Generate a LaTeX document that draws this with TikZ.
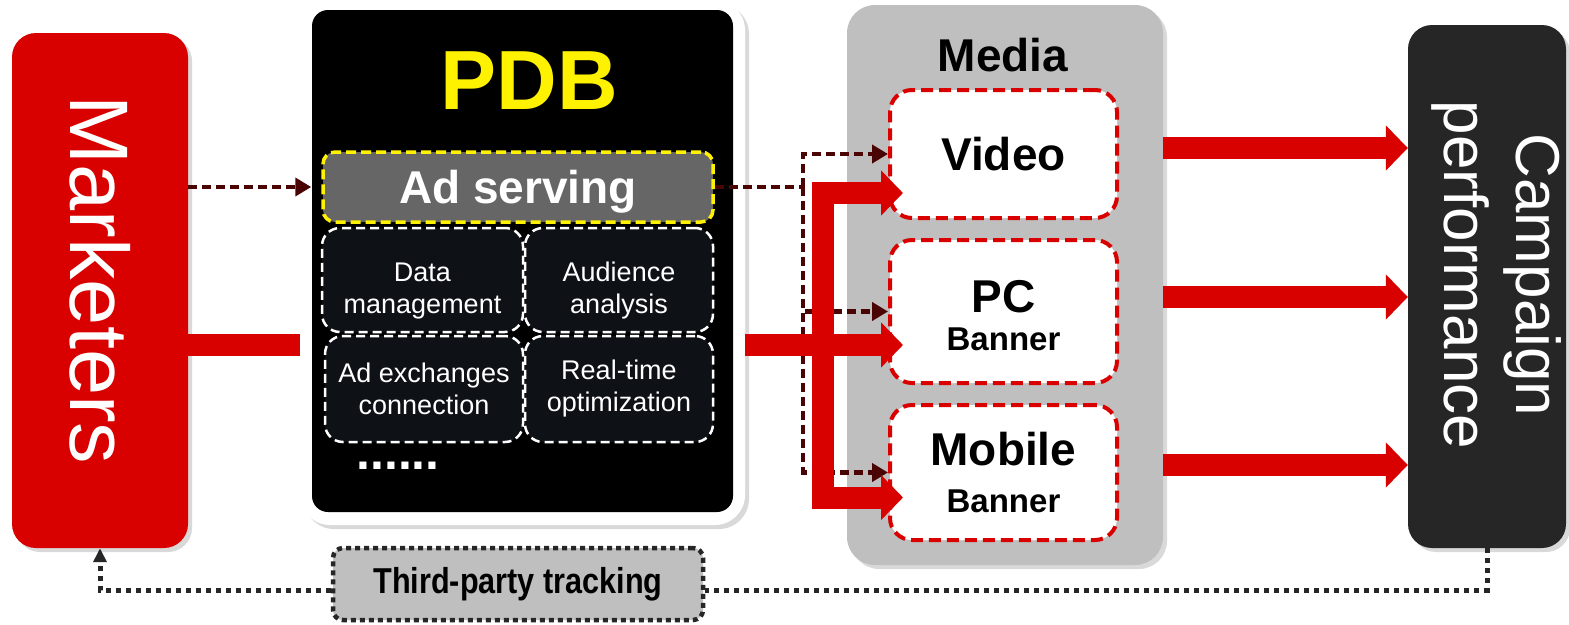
\documentclass[tikz,border=0pt]{standalone}
\usepackage{fontspec}
\setmainfont{Liberation Sans}
\usepackage{tikz}
\usetikzlibrary{arrows.meta,positioning,calc,shadows}

\definecolor{adred}{HTML}{D90000}
\definecolor{flowdark}{HTML}{4A0404}
\definecolor{panelgray}{HTML}{BFBFBF}
\definecolor{servegray}{HTML}{666666}
\definecolor{cellfill}{HTML}{0E1216}
\definecolor{perfdark}{HTML}{262626}
\newcommand\fsz[2]{\fontsize{#1}{#2}\selectfont}

\begin{document}
\begin{tikzpicture}[
  x=1pt,y=-1pt,
  shade/.style={drop shadow={opacity=0.3,shadow xshift=4pt,shadow yshift=-4pt}},
  panel/.style={inner sep=0pt,align=center},
  cell/.style={panel,draw=white,dash pattern=on 9pt off 5pt,line width=2.5pt,fill=cellfill,
    rounded corners=18pt,text=white,font=\fsz{27}{32}},
  mediabox/.style={panel,draw=adred,dash pattern=on 12pt off 6pt,line width=4pt,fill=white,
    rounded corners=22pt,minimum width=227pt,font=\bfseries\fsz{33}{38}},
  redflow/.style={adred,line width=22pt,-{Triangle[width=44pt,length=22pt]}},
  darkflow/.style={flowdark,line width=4.5pt,dash pattern=on 9pt off 5pt,-{Triangle[width=18pt,length=16pt]}},
  trackline/.style={perfdark,line width=5pt,dash pattern=on 5pt off 5pt}]
  \useasboundingbox (0,0) rectangle (1569,624);

  % side blocks
  \node[panel,shade,fill=adred,rounded corners=24pt,minimum width=176pt,minimum height=515pt] (mkt) at (100,290.5) {};
  \node[rotate=-90,text=white,font=\fsz{83}{90}] (mkttext) at (100,280) {Marketers};
  \node[panel,shade,fill=perfdark,rounded corners=24pt,minimum width=158pt,minimum height=523pt] (camp) at (1487,286.5) {};
  \node[rotate=-90,text=white,font=\fsz{62}{72},align=center] (camptext) at (1497,275) {Campaign\\performance};

  % PDB platform
  \node[panel,shade,fill=white,rounded corners=30pt,minimum width=445pt,minimum height=525pt] (pdbframe) at (522.5,262.5) {};
  \node[panel,fill=black,rounded corners=16pt,minimum width=421pt,minimum height=502pt] (pdb) at (522.5,261) {};
  \node[text=yellow,font=\bfseries\fsz{84}{90}] (pdbtitle) at (529,81) {PDB};
  \node[panel,fill=servegray,draw=yellow,dash pattern=on 10pt off 5pt,line width=3.5pt,rounded corners=12pt,
    minimum width=390pt,minimum height=70pt,text depth=0pt,text=white,font=\bfseries\fsz{46}{50}] (adserv) at (518,187) {Ad serving};
  \node[cell,minimum width=201pt,minimum height=104pt] (datamgmt) at (422.5,280) {\rule{0pt}{40pt}Data\\management};
  \node[cell,minimum width=188pt,minimum height=104pt] (audience) at (619,280) {\rule{0pt}{40pt}Audience\\analysis};
  \node[cell,minimum width=198pt,minimum height=106pt] (exchange) at (424,389) {Ad exchanges\\connection};
  \node[cell,minimum width=188pt,minimum height=106pt] (realtime) at (619,389) {Real-time\\optimization};
  \node[text=white,font=\bfseries\fsz{50}{50}] (more) at (398,466) {......};

  % media channels
  \node[panel,shade,fill=panelgray,rounded corners=28pt,minimum width=316pt,minimum height=560pt] (media) at (1005,285) {};
  \node[font=\bfseries\fsz{46}{48}] (mediatitle) at (1003,55) {Media};
  \node[mediabox,minimum height=128pt] (video) at (1003.5,154) {\fsz{46}{38}Video};
  \node[mediabox,minimum height=143pt] (pc) at (1003.5,311.5) {{\fsz{46}{38}\rule{0pt}{41pt}PC}\\Banner};
  \node[mediabox,minimum height=135pt] (mobile) at (1003.5,472.5) {{\fsz{46}{38}Mobile}\\[9pt]Banner};

  % tracking
  \node[panel,fill=panelgray,draw=perfdark,dash pattern=on 5pt off 4pt,line width=4.5pt,rounded corners=10pt,
    minimum width=370pt,minimum height=72pt,font=\bfseries\fsz{36}{40}] (track) at (518,584) {\scalebox{0.85}[1]{Third-party tracking}};

  % ad requests
  \draw[darkflow,shorten >=10pt] (mkt.east |- adserv.west) -- (adserv.west);
  \coordinate (fork) at (803,187);
  \draw[darkflow,-] (adserv.east) -- (fork);
  \draw[darkflow] (fork) |- (video.west);
  \draw[darkflow] (fork) |- (pc.west);
  \draw[darkflow] (fork) |- (mobile.west);

  % budget flow
  \draw[adred,line width=22pt] (mkt.east |- pc.west) ++(0,33.5) coordinate (mktout) -- (pdbframe.west |- mktout);
  \coordinate (split) at (823,345);
  \draw[redflow] (pdbframe.east |- split) -- ([xshift=15pt]pc.west |- split);
  \draw[redflow] (split) |- ([shift={(15,39)}]video.west);
  \draw[redflow] (split) |- ([shift={(15,25)}]mobile.west);

  % results
  \coordinate (vout) at ([yshift=6pt]video.east);
  \coordinate (pout) at ([yshift=14.5pt]pc.east);
  \coordinate (mout) at ([yshift=7.5pt]mobile.east);
  \draw[redflow] (media.east |- vout) -- (camp.west |- vout);
  \draw[redflow] (media.east |- pout) -- (camp.west |- pout);
  \draw[redflow] (media.east |- mout) -- (camp.west |- mout);

  % feedback
  \draw[trackline] (camp.south) |- ([yshift=-6pt]track.east);
  \draw[trackline,-{Triangle[width=13pt,length=14pt]}] ([yshift=-6pt]track.west) -| (mkt.south);
\end{tikzpicture}
\end{document}
